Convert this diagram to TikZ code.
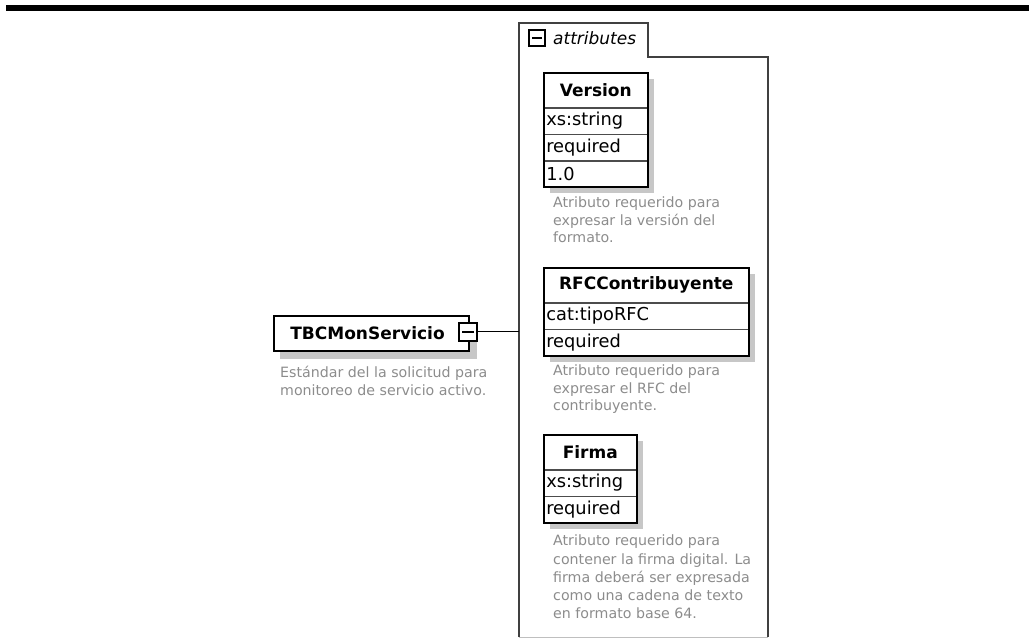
\documentclass[tikz,border=0pt]{standalone}
\usepackage{fontspec}
\setmainfont{DejaVu Sans}
\usetikzlibrary{positioning,backgrounds}

\tikzset{
  elembox/.style={draw, line width=2pt, fill=white, inner sep=0pt,
    minimum width=195pt, minimum height=35pt,
    font=\fontsize{17}{20}\selectfont\bfseries},
  attrhead/.style={draw=black!70, line width=0.6pt, fill=white, anchor=north west,
    inner sep=0pt, minimum height=34pt, font=\fontsize{17}{20}\selectfont\bfseries},
  attrcell/.style={draw=black!70, line width=0.6pt, fill=white, anchor=north west,
    inner xsep=2pt, inner ysep=0pt, minimum height=26pt, align=left,
    font=\fontsize{17.8}{20}\selectfont},
  attrframe/.style={draw, line width=2pt},
  shade/.style={fill=black!22},
  minusbox/.style={draw, line width=2.2pt, fill=white, inner sep=0pt, minimum size=#1,
    path picture={\draw[line width=1.4pt]
      ([xshift=3pt]path picture bounding box.west) --
      ([xshift=-3pt]path picture bounding box.east);}},
  desc/.style={anchor=north west, align=left, inner sep=0pt, text=black!45,
    font=\fontsize{14.2}{17.5}\selectfont},
  grpline/.style={draw=black!75, line width=1.4pt},
}

\begin{document}
\begin{tikzpicture}[x=1pt,y=-1pt]
    \useasboundingbox (0,0) rectangle (1029,639);

    % top rule
    \fill (6,5) rectangle (1029,11);

    % attributes group
    \draw[grpline] (519,637) -- (519,23) -- (648,23) -- (648,57) -- (768,57) -- (768,637);
    \draw[black!25, line width=0.8pt] (519,637) -- (768,637);
    \node[minusbox=16pt] (grpicon) at (537,38) {};
    \node[anchor=west, inner sep=0pt, font=\fontsize{17}{20}\selectfont\itshape] (grplabel)
      at (553,38) {attributes};
    \coordinate (grpin) at (519,332);

    % element
    \node[elembox, anchor=north west] (tbc) at (273,315) {\hspace*{-8pt}TBCMonServicio};
    \node[minusbox=18pt] (tbcicon) at (468,332) {};
    \node[desc, font=\fontsize{14.2}{18}\selectfont] (tbcdesc) at (280,366)
      {Estándar del la solicitud para\\monitoreo de servicio activo.};
    \draw[line width=1pt] (tbcicon.east) -- (grpin);

    % Version
    \node[attrhead, minimum width=103pt] (vh) at (544,73) {Version};
    \node[attrcell, text width=99pt] (vtype) at (vh.south west) {xs:string};
    \node[attrcell, text width=99pt] (vuse) at (vtype.south west) {required};
    \node[attrcell, text width=99pt] (vfix) at (vuse.south west) {1.0};
    \draw[attrframe] (vh.north west) rectangle (vfix.south east);
    \node[desc] (vdesc) at (553,197)
      {Atributo requerido para\\expresar la versión del\\formato.};

    % RFCContribuyente
    \node[attrhead, minimum width=204pt] (rh) at (544,268) {RFCContribuyente};
    \node[attrcell, text width=200pt] (rtype) at (rh.south west) {cat:tipoRFC};
    \node[attrcell, text width=200pt] (ruse) at (rtype.south west) {required};
    \draw[attrframe] (rh.north west) rectangle (ruse.south east);
    \node[desc] (rdesc) at (553,365)
      {Atributo requerido para\\expresar el RFC del\\contribuyente.};

    % Firma
    \node[attrhead, minimum width=92pt] (fh) at (544,435) {Firma};
    \node[attrcell, text width=88pt] (ftype) at (fh.south west) {xs:string};
    \node[attrcell, text width=88pt] (fuse) at (ftype.south west) {required};
    \draw[attrframe] (fh.north west) rectangle (fuse.south east);
    \node[desc, font=\fontsize{14.2}{18.2}\selectfont] (fdesc) at (553,535)
      {Atributo requerido para\\contener la firma digital. La\\firma deberá ser expresada\\como una cadena de texto\\en formato base 64.};

    % shadows
    \begin{scope}[on background layer]
      \fill[shade] ([shift={(7,7)}]tbc.north west) rectangle ([shift={(7,7)}]tbc.south east);
      \fill[shade] ([shift={(6,6)}]vh.north west) rectangle ([shift={(6,6)}]vfix.south east);
      \fill[shade] ([shift={(6,6)}]rh.north west) rectangle ([shift={(6,6)}]ruse.south east);
      \fill[shade] ([shift={(6,6)}]fh.north west) rectangle ([shift={(6,6)}]fuse.south east);
    \end{scope}

\end{tikzpicture}
\end{document}
